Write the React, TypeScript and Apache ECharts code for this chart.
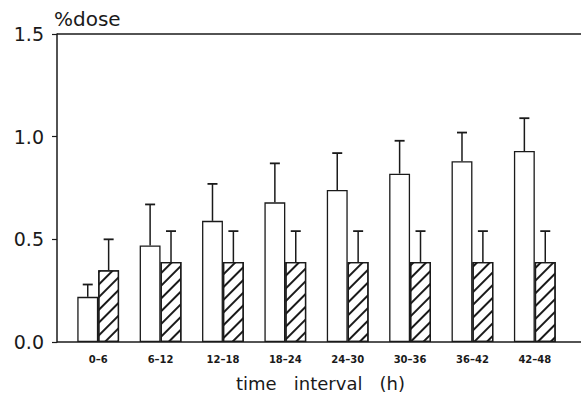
import React, { useEffect, useRef } from "react";
import * as echarts from "echarts";

const categories = ["0–6", "6–12", "12–18", "18–24", "24–30", "30–36", "36–42", "42–48"];
const openMeans = [0.22, 0.47, 0.59, 0.68, 0.74, 0.82, 0.88, 0.93];
const openSd = [0.06, 0.20, 0.18, 0.19, 0.18, 0.16, 0.14, 0.16];
const hatchedMeans = [0.35, 0.39, 0.39, 0.39, 0.39, 0.39, 0.39, 0.39];
const hatchedSd = [0.15, 0.15, 0.15, 0.15, 0.15, 0.15, 0.15, 0.15];
const yTicks = [0, 0.5, 1.0, 1.5];

const INK = "#1a1a1a";
const GAP = 0.33;

function errorSeries(means: number[], sd: number[], side: number) {
  return {
    type: "custom",
    z: 5,
    data: means.map((m, i) => [i, m, m + sd[i]]),
    renderItem: (params: any, api: any) => {
      const idx = api.value(0);
      const band = api.size([1, 0])[0];
      const barW = (band * (1 - GAP)) / 2;
      const base = api.coord([idx, api.value(1)]);
      const top = api.coord([idx, api.value(2)]);
      const x = base[0] + side * barW / 2;
      return {
        type: "group",
        children: [
          { type: "line", shape: { x1: x, y1: base[1], x2: x, y2: top[1] }, style: { stroke: INK, lineWidth: 1.5 } },
          { type: "line", shape: { x1: x - 5, y1: top[1], x2: x + 5, y2: top[1] }, style: { stroke: INK, lineWidth: 1.8 } },
        ],
      };
    },
  };
}

export default function App() {
  const ref = useRef<HTMLDivElement>(null);
  useEffect(() => {
    if (!ref.current) return;
    const chart = echarts.init(ref.current, null, { renderer: "svg" });
    chart.setOption({
      animation: false,
      backgroundColor: "#ffffff",
      grid: { left: 67, right: 15, top: 34, bottom: 55 },
      xAxis: {
        type: "category",
        data: categories,
        axisLine: { show: false },
        axisTick: { show: false },
        axisLabel: { color: INK, fontSize: 10, fontWeight: "bold", fontFamily: "DejaVu Sans", margin: 12 },
        name: "time\u00a0\u00a0\u00a0interval\u00a0\u00a0\u00a0(h)",
        nameLocation: "middle",
        nameGap: 32,
        nameTextStyle: { color: INK, fontSize: 18, fontFamily: "DejaVu Sans", padding: [0, 0, 0, 8] },
      },
      yAxis: {
        type: "value",
        min: 0,
        max: 1.5,
        interval: 0.5,
        offset: 10,
        splitLine: { show: false },
        axisLine: { show: true, lineStyle: { color: INK, width: 1.5 } },
        axisTick: { show: true, length: 5, lineStyle: { color: INK, width: 1.2 } },
        axisLabel: {
          color: INK,
          fontSize: 19,
          fontFamily: "DejaVu Sans",
          margin: 13,
          formatter: (v: number) => (yTicks.includes(v) ? v.toFixed(1) : ""),
        },
        name: "%dose",
        nameLocation: "end",
        nameGap: 5,
        nameTextStyle: { color: INK, fontSize: 20, fontFamily: "DejaVu Sans", align: "left", padding: [0, 0, 0, -3] },
      },
      graphic: [
        { type: "line", shape: { x1: 57, y1: 342, x2: 581, y2: 342 }, style: { stroke: INK, lineWidth: 1.5 } },
        { type: "line", shape: { x1: 57, y1: 34, x2: 581, y2: 34 }, style: { stroke: INK, lineWidth: 1.5 } },
      ],
      series: [
        {
          type: "bar",
          data: openMeans,
          barGap: "0%",
          barCategoryGap: GAP * 100 + "%",
          itemStyle: { color: "#ffffff", borderColor: INK, borderWidth: 1.3 },
        },
        {
          type: "bar",
          data: hatchedMeans,
          barGap: "0%",
          barCategoryGap: GAP * 100 + "%",
          itemStyle: {
            color: "#ffffff",
            borderColor: INK,
            borderWidth: 1.3,
            decal: {
              symbol: "rect",
              symbolSize: 1,
              color: INK,
              backgroundColor: "#ffffff",
              dashArrayX: [1, 0],
              dashArrayY: [1.2, 6.3],
              rotation: -Math.PI / 4,
            },
          },
        },
        errorSeries(openMeans, openSd, -1),
        errorSeries(hatchedMeans, hatchedSd, 1),
      ],
    });
    return () => chart.dispose();
  }, []);
  return <div ref={ref} style={{ width: 581, height: 397, position: "absolute", left: 0, top: 0 }} />;
}
